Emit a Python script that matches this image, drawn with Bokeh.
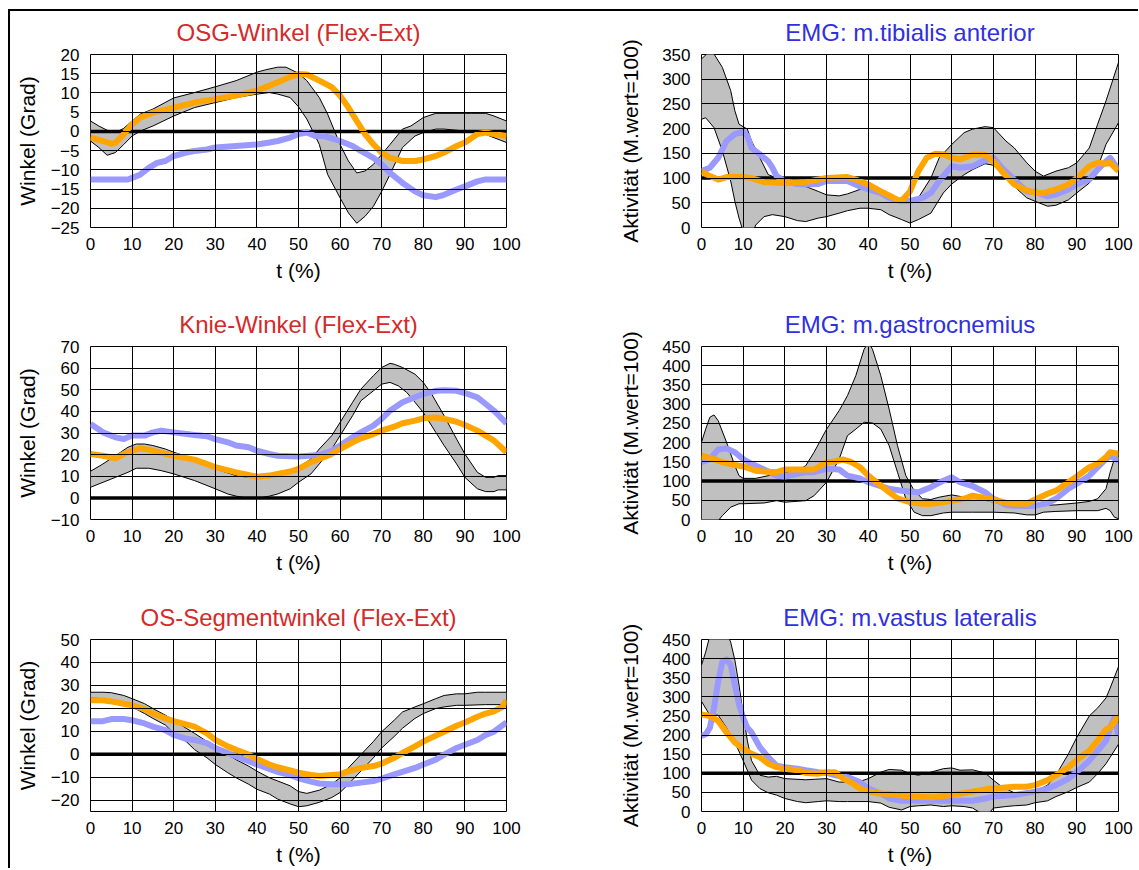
from bokeh.plotting import figure
from bokeh.layouts import row, column
from bokeh.models import Range1d, SingleIntervalTicker
from bokeh.embed import file_html
from bokeh.resources import INLINE

FONT = "Liberation Sans"
ORANGE = "#ffa500"
BLUE = "#9999ff"
BAND = "#c0c0c0"
RED_T = "#d42a2a"
BLUE_T = "#3030e0"

# ---------------- OSG-Winkel ----------------
osg_up_t = [0,2,4,6,8,10,12,15,20,25,30,35,40,42,45,47,50,52,55,57,60,62,64,66,68,70,72,75,77,80,83,90,95,97,100]
osg_up = [2.7,1.4,0.3,-0.3,0.8,2.7,4.5,5.8,8.7,10.1,11.6,13.2,15.4,16,16.7,16.7,15.1,13.2,8.8,4.5,-3.4,-7.7,-10.8,-10.3,-8.6,-6,-3.4,0.6,1.4,3.6,4.7,4.7,4.7,4,2.7]
osg_lo_t = [0,2,4,6,8,10,12,15,20,25,30,35,40,43,45,48,50,52,55,57,60,62,64,66,68,70,72,75,78,80,83,85,90,95,100]
osg_lo = [-2.5,-4.2,-6.2,-5.5,-3.4,-1.2,0.1,1.4,4,6.2,7.5,8.8,9.7,10.1,9.7,8.8,6.4,3.2,-3.4,-11.2,-17.3,-21.2,-23.9,-22.1,-19.5,-15.6,-11.2,-4.2,-1.2,-0.3,0.6,0.6,0.1,-0.8,-2.9]
osg_or_t = [0,3,5,6,8,10,12,15,20,25,30,35,40,43,45,48,50,52,55,58,60,62,64,66,68,70,72,75,78,80,83,85,88,90,93,95,97,100]
osg_or = [-1.6,-2.5,-3.2,-3,-0.7,1.9,3.6,4.9,6.2,7.5,8.4,9.3,10.6,11.9,12.8,14.2,14.9,14.8,13.2,11.5,9.3,6.2,2.7,-0.7,-3.4,-5.5,-6.9,-7.7,-7.7,-7.3,-6.4,-5.5,-3.8,-2.9,-0.7,-0.3,-0.7,-1.2]
osg_bl_t = [0,5,9,10,12,14,16,18,20,23,25,28,30,35,40,43,45,48,50,52,54,56,58,60,63,65,68,70,72,75,78,80,83,85,88,90,93,95,100]
osg_bl = [-12.5,-12.5,-12.5,-12.1,-11.2,-9.5,-8.2,-7.7,-6.4,-5.5,-5.1,-4.7,-4.2,-3.8,-3.4,-2.9,-2.5,-1.6,-0.7,-0.3,-1.2,-1.2,-1.8,-2.5,-3.8,-5.1,-6.9,-8.6,-10.8,-13.4,-15.6,-16.6,-17.1,-16.5,-15.1,-14.3,-13,-12.5,-12.5]

# ---------------- EMG tibialis anterior ----------------
tib_up_t = [0,2,3,5,7,8,9,10,11,12,14,16,18,20,25,28,30,33,35,38,40,43,45,48,50,52,55,57,60,63,65,68,70,73,75,78,80,82,85,88,90,93,95,97,100]
tib_up = [341,357,351,324,277,236,209,204,199,175,141,107,100,90,83,73,66,64,68,77,77,70,63,56,53,60,100,141,168,192,199,204,202,175,161,131,114,104,114,121,131,161,209,256,334]
tib_lo_t = [0,1,3,5,7,8,9,10,11,12,13,15,17,20,23,25,28,30,33,35,38,40,43,45,48,50,52,55,58,60,63,65,68,70,73,75,78,80,83,85,88,90,93,95,97,100]
tib_lo = [219,222,202,155,94,53,19,-8,-22,-15,5,22,26,22,14,12,19,22,29,34,39,39,36,26,16,9,16,29,70,88,107,117,129,126,100,83,60,53,43,45,56,70,90,121,168,212]
tib_bl_t = [0,2,4,6,8,10,11,12,14,16,17,18,20,23,25,28,30,35,38,40,43,45,48,50,53,55,57,60,62,65,68,70,72,75,78,80,83,85,88,90,93,95,97,98,100]
tib_bl = [114,121,141,175,189,194,185,161,148,134,121,104,94,88,87,88,94,94,83,77,70,60,53,54,60,70,94,124,121,124,136,141,121,97,73,72,63,67,77,87,97,117,134,141,117]
tib_or_t = [0,2,4,6,10,12,15,20,25,30,35,37,40,43,45,47,48,50,52,54,56,58,60,62,65,68,70,72,75,78,80,82,85,88,90,93,95,97,98,100]
tib_or = [113,104,97,102,102,100,92,90,92,100,102,97,87,73,65,56,54,73,114,141,149,148,141,138,147,147,134,114,87,75,70,70,77,87,100,124,131,129,131,114]

# ---------------- Knie-Winkel ----------------
knie_up_t = [0,3,6,9,11,13,15,18,20,25,30,35,38,40,43,45,50,53,55,58,60,63,65,68,70,72,73,75,78,80,82,85,88,90,93,95,97,98,100]
knie_up = [12.3,15.7,19.5,23.4,24.9,24.9,24.2,22.6,21.1,18,13.4,10.3,9.5,9.5,9.5,10.3,14.2,18,22.6,28.8,34.9,44.2,50.3,56.5,60.3,62.2,61.8,60.3,57.2,53.4,48,38,27.2,20.3,11.8,9.5,9.5,10.3,10.3]
knie_lo_t = [0,3,6,9,11,14,17,20,25,30,33,35,38,40,43,45,48,50,53,55,58,60,63,65,68,70,72,74,76,78,80,83,85,88,90,93,95,97,98,100]
knie_lo = [4.9,7.2,9.5,11.8,13.7,13.7,12.6,11.1,8,4.2,1.8,0.8,-0.2,-0.2,0.8,1.8,4.2,7.2,11.1,15.7,22.6,28.8,38,44.9,49.5,52.6,53.4,51.8,48.8,44.2,39.5,30.3,24.2,15.7,9.5,4.2,2.9,2.9,3.7,3.7]
knie_bl_t = [0,3,6,8,10,13,15,17,20,25,28,30,33,35,38,40,43,45,50,55,58,60,63,65,68,70,72,75,78,80,83,85,88,90,93,95,97,100]
knie_bl = [34.2,30.3,28,27.2,28.8,28.8,30.3,31.1,30.3,29.1,28.5,27.2,25.7,24.2,23.4,21.8,20.3,19.5,19.1,19.8,21.8,24.2,28,30.3,33.4,36.5,40.3,44.2,46.5,48,49.5,49.8,49.5,48.5,46.5,43.4,40.3,34.5]
knie_or_t = [0,3,6,8,10,12,14,17,20,25,30,35,38,40,43,45,48,50,53,55,58,60,63,65,68,70,73,75,78,80,83,85,88,90,93,95,97,100]
knie_or = [20.3,19.5,18.3,20.3,21.8,22.9,22.3,20.8,19.5,17.7,14.2,11.8,10.6,9.8,10.3,11.1,12.2,13.4,16.5,18,20.3,22.6,25.7,27.5,29.5,31.1,32.9,34.5,35.7,36.8,37.2,36.5,35.2,33.7,31.1,28.8,26.5,21.1]

# ---------------- EMG gastrocnemius ----------------
gas_up_t = [0,1,2,3,4,6,8,9,10,13,16,20,23,25,27,30,33,35,37,39,40,41,43,45,47,49,51,53,55,57,60,63,65,70,75,80,85,90,93,95,97,98,99,100]
gas_up = [201,235,266,272,257,201,140,114,107,107,114,123,127,140,175,235,283,322,374,443,460,443,374,287,192,114,75,54,52,58,64,58,58,45,36,36,38,43,47,54,80,123,157,175]
gas_lo_t = [0,1,2,3,5,7,9,10,15,18,20,25,27,30,33,35,37,39,41,43,45,47,49,51,53,55,58,60,65,70,75,78,80,82,85,90,95,97,98,99,100]
gas_lo = [-7,-20,-20,-16,10,32,41,41,43,49,45,49,62,97,157,218,235,253,251,235,192,123,54,19,10,10,17,19,19,19,17,12,12,19,21,23,23,29,23,6,2]
gas_bl_t = [0,2,4,6,8,10,12,15,18,20,23,25,27,30,33,35,38,40,43,45,48,50,52,55,58,60,62,65,68,70,73,75,78,80,83,85,88,90,93,95,97,98,100]
gas_bl = [149,157,182,185,175,157,145,130,114,112,119,123,123,132,130,114,107,97,87,80,75,73,71,84,101,110,97,87,71,54,38,36,35,36,43,54,80,93,114,136,157,166,153]
gas_or_t = [0,3,5,8,10,13,15,18,20,25,27,30,32,34,36,38,40,43,45,47,50,53,55,58,60,63,65,67,70,73,75,78,80,83,85,88,90,93,95,97,98,100]
gas_or = [166,157,149,142,138,127,125,123,130,130,130,149,151,156,149,136,114,88,71,55,45,41,41,45,49,54,62,58,52,43,41,41,52,67,75,97,112,136,145,162,175,171]

# ---------------- OS-Segmentwinkel ----------------
seg_up_t = [0,3,5,8,10,13,15,18,20,23,25,28,30,33,35,38,40,43,45,48,50,52,55,58,60,62,65,68,70,73,75,78,80,83,85,88,90,93,95,100]
seg_up = [27,27,26.8,25.6,24.2,22,19.9,17,14.8,11.3,9.1,5.5,2.7,-0.2,-2.4,-5.2,-7.4,-10.3,-11.7,-13.8,-16.3,-17.1,-15.7,-13.1,-10.3,-6,-0.2,5.5,9.8,14.8,18.4,20.6,22,24.2,25.6,26.3,26.3,27,27,27]
seg_lo_t = [0,3,5,8,10,13,15,18,20,23,25,28,30,33,35,38,40,43,45,48,50,52,55,58,60,62,65,68,70,73,75,78,80,83,85,88,90,95,100]
seg_lo = [24.5,24.2,23.5,22.5,20.6,17.7,15.6,12.7,9.1,5.5,2,-1.6,-4.5,-8.1,-10.3,-13.1,-15.3,-17.4,-19.6,-21.7,-22.9,-22.5,-21,-18.9,-16.7,-13.1,-7.4,-1.6,2.7,7.7,11.3,15.6,17.7,19.9,20.6,21.3,21.3,21.6,21.6]
seg_or_t = [0,3,5,8,10,13,15,18,20,23,25,28,30,33,35,38,40,43,45,48,50,53,55,58,60,62,65,68,70,73,75,78,80,83,85,88,90,93,95,97,99,100]
seg_or = [23.5,23.5,23,22,21.3,19.6,17.7,15.6,14.4,13,12,9.1,6.2,3.4,1.9,-0.2,-2.1,-4.5,-5.7,-7.1,-8.1,-9.1,-9.5,-9.1,-8.8,-7.4,-6,-5.2,-4.1,-1.6,0.5,3.4,5.5,8.1,9.8,12.4,13.8,16.3,17.7,18.7,20.6,23.5]
seg_bl_t = [0,3,5,8,10,13,15,18,20,23,25,28,30,33,35,38,40,43,45,48,50,53,55,58,60,62,65,68,70,73,75,78,80,83,85,88,90,93,95,97,100]
seg_bl = [14.4,14.4,15.3,15.3,14.8,13.4,12,10.5,8.4,6.7,6.2,4.8,2.7,0.5,-0.9,-3.1,-4.5,-6.4,-7.7,-9.1,-10.5,-12,-12.8,-13.1,-13.1,-13.1,-12.4,-11.7,-10.7,-8.8,-7.7,-6,-4.5,-2.4,-0.2,2.7,4.1,6.2,8.4,9.8,13.9]

# ---------------- EMG vastus lateralis ----------------
vas_up_t = [0,1,2,3,4,5,6,7,8,9,10,11,12,14,16,18,20,25,30,33,35,38,40,43,45,48,50,52,55,58,60,62,65,68,70,72,75,78,80,83,85,88,90,93,95,97,98,100]
vas_up = [383,417,460,486,497,488,469,443,396,331,254,185,133,95,90,92,86,83,86,77,77,79,86,103,110,108,99,95,103,112,114,108,109,101,82,65,49,47,52,69,95,151,194,250,271,297,323,379]
vas_lo_t = [0,2,4,6,8,10,12,14,16,18,20,23,25,28,30,33,35,38,40,43,45,48,50,52,55,58,60,63,65,67,68,69,70,73,75,78,80,83,85,88,90,93,95,97,98,100]
vas_lo = [288,252,252,219,181,133,82,60,49,43,34,26,23,26,28,26,26,26,26,22,11,4,13,15,17,13,15,13,9,-4,-9,-4,9,13,15,17,23,28,39,52,63,77,99,125,142,176]
vas_bl_t = [0,1,2,3,4,5,6,7,8,9,10,11,12,14,16,18,20,23,25,28,30,32,35,38,40,43,45,48,50,55,60,65,68,70,75,80,83,85,88,90,93,95,97,98,99,100]
vas_bl = [198,202,219,271,340,392,398,383,331,280,245,219,207,168,142,120,116,112,108,103,101,95,90,77,60,47,34,28,28,28,28,28,34,39,43,52,60,69,86,103,133,159,185,219,245,198]
vas_or_t = [0,2,4,6,8,10,12,14,16,18,20,23,25,28,30,32,34,36,38,40,43,45,47,50,55,60,65,68,70,75,78,80,83,85,88,90,93,95,97,98,100]
vas_or = [254,250,237,207,181,164,151,142,125,116,112,108,101,99,103,103,86,75,60,52,47,46,43,39,37,43,52,58,60,65,65,69,82,95,116,135,159,185,215,219,250]

TITLES = ["OSG-Winkel (Flex-Ext)", "EMG: m.tibialis anterior",
          "Knie-Winkel (Flex-Ext)", "EMG: m.gastrocnemius",
          "OS-Segmentwinkel (Flex-Ext)", "EMG: m.vastus lateralis"]
YLABEL_ANGLE = "Winkel (Grad)"
YLABEL_EMG = "Aktivität (M.wert=100)"
XLABEL = "t (%)"


def panel(title, tcolor, ylabel, yr, yint, ref, up_t, up, lo_t, lo, bl_t, bl, or_t, orr,
          width, height, bl_border, br_border, bt, bb):
    p = figure(width=width, height=height, output_backend="svg", toolbar_location=None,
               x_range=Range1d(0, 100), y_range=Range1d(yr[0], yr[1]),
               min_border_left=bl_border, min_border_right=br_border,
               min_border_top=bt, min_border_bottom=bb)
    p.title.text = title
    p.title.text_color = tcolor
    p.title.text_font = FONT
    p.title.text_font_size = "24px"
    p.title.text_font_style = "normal"
    p.title.align = "center"
    p.title.vertical_align = "top"
    p.title.standoff = 14
    p.outline_line_color = "black"
    p.outline_line_width = 1
    p.outline_line_alpha = 1
    p.background_fill_color = "white"
    p.border_fill_color = "white"

    p.xaxis.ticker = SingleIntervalTicker(interval=10)
    p.yaxis.ticker = SingleIntervalTicker(interval=yint)
    for ax in (p.xaxis[0], p.yaxis[0]):
        ax.axis_line_color = None
        ax.major_tick_line_color = None
        ax.minor_tick_line_color = None
        ax.major_tick_out = 0
        ax.major_tick_in = 0
        ax.major_label_text_font = FONT
        ax.major_label_text_font_size = "17px"
        ax.major_label_text_color = "black"
        ax.axis_label_text_font = FONT
        ax.axis_label_text_font_size = "21px"
        ax.axis_label_text_font_style = "normal"
        ax.axis_label_text_color = "black"
    p.xaxis.axis_label = XLABEL
    p.yaxis.axis_label = ylabel
    p.xaxis.major_label_standoff = 6
    p.xaxis.axis_label_standoff = 6
    p.yaxis.major_label_standoff = 7
    p.yaxis.axis_label_standoff = 9 if ylabel == YLABEL_ANGLE else 17

    for g in (p.xgrid[0], p.ygrid[0]):
        g.grid_line_color = "black"
        g.grid_line_width = 1
        g.grid_line_alpha = 1
        g.level = "glyph"

    # band (norm corridor)
    p.patch(up_t + lo_t[::-1], up + lo[::-1], fill_color=BAND, line_color=None, level="underlay")
    p.line(up_t, up, line_color="black", line_width=1, level="underlay")
    p.line(lo_t, lo, line_color="black", line_width=1, level="underlay")
    # reference line
    p.line([0, 100], [ref, ref], line_color="black", line_width=3.5)
    p.line(bl_t, bl, line_color=BLUE, line_width=6, line_join="round")
    p.line(or_t, orr, line_color=ORANGE, line_width=6, line_join="round")
    return p


LW, RW = 560, 568
LBL, LBR = 80, 64
RBL, RBR = 131, 20
H1, H2, H3 = 292, 293, 272

p1 = panel(TITLES[0], RED_T, YLABEL_ANGLE, (-25, 20), 5, 0,
           osg_up_t, osg_up, osg_lo_t, osg_lo, osg_bl_t, osg_bl, osg_or_t, osg_or,
           LW, H1, LBL, LBR, 43, H1 - 43 - 173)
p2 = panel(TITLES[1], BLUE_T, YLABEL_EMG, (0, 350), 50, 100,
           tib_up_t, tib_up, tib_lo_t, tib_lo, tib_bl_t, tib_bl, tib_or_t, tib_or,
           RW, H1, RBL, RBR, 43, H1 - 43 - 173)
p3 = panel(TITLES[2], RED_T, YLABEL_ANGLE, (-10, 70), 10, 0,
           knie_up_t, knie_up, knie_lo_t, knie_lo, knie_bl_t, knie_bl, knie_or_t, knie_or,
           LW, H2, LBL, LBR, 43, H2 - 43 - 173)
p4 = panel(TITLES[3], BLUE_T, YLABEL_EMG, (0, 450), 50, 100,
           gas_up_t, gas_up, gas_lo_t, gas_lo, gas_bl_t, gas_bl, gas_or_t, gas_or,
           RW, H2, RBL, RBR, 43, H2 - 43 - 173)
p5 = panel(TITLES[4], RED_T, YLABEL_ANGLE, (-25, 50), 10, 0,
           seg_up_t, seg_up, seg_lo_t, seg_lo, seg_bl_t, seg_bl, seg_or_t, seg_or,
           LW, H3, LBL, LBR, 43, H3 - 43 - 173)
p6 = panel(TITLES[5], BLUE_T, YLABEL_EMG, (0, 450), 50, 100,
           vas_up_t, vas_up, vas_lo_t, vas_lo, vas_bl_t, vas_bl, vas_or_t, vas_or,
           RW, H3, RBL, RBR, 43, H3 - 43 - 173)

layout = column(row(p1, p2), row(p3, p4), row(p5, p6), margin=(9, 0, 0, 8),
                styles={"border-top": "2px solid black", "border-left": "2px solid black"})

open("out.html", "w").write(file_html(layout, INLINE))
